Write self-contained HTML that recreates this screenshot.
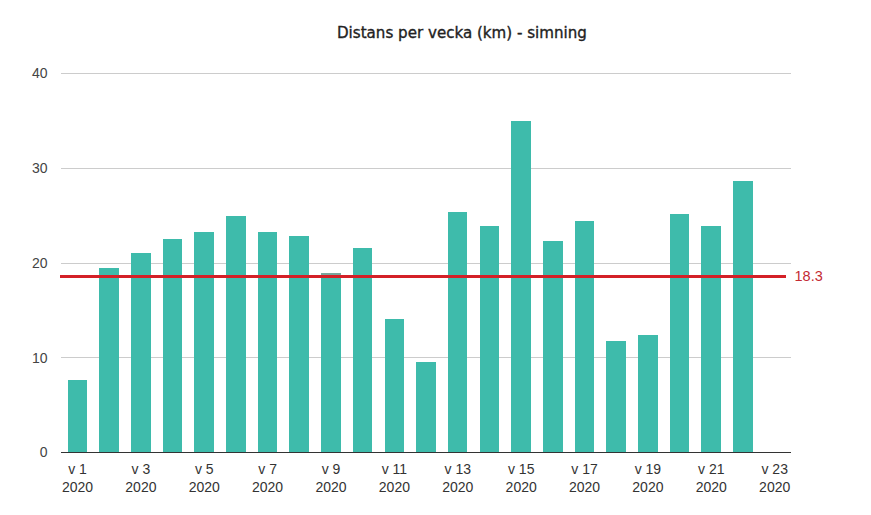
<!DOCTYPE html>
<html><head><meta charset="utf-8"><style>
html,body{margin:0;padding:0;background:#fff;}
body{width:871px;height:515px;overflow:hidden;position:relative;}
svg{position:absolute;left:0;top:0;}
.t{font-family:"Liberation Sans",Arial,sans-serif;font-size:14px;fill:#444;}
.title{position:absolute;left:337px;top:24px;font-family:"DejaVu Sans","Liberation Sans",sans-serif;font-size:15.1px;font-weight:400;color:#222;-webkit-text-stroke:0.35px #222;white-space:nowrap;line-height:normal;}
</style></head><body>
<svg width="871" height="515" viewBox="0 0 871 515">
<g shape-rendering="crispEdges">
<rect x="61" y="73" width="730" height="1" fill="#ccc"/>
<rect x="61" y="168" width="730" height="1" fill="#ccc"/>
<rect x="61" y="263" width="730" height="1" fill="#ccc"/>
<rect x="61" y="357" width="730" height="1" fill="#ccc"/>
<rect x="68" y="380" width="19" height="72" fill="#3ebbab"/>
<rect x="99" y="268" width="20" height="184" fill="#3ebbab"/>
<rect x="131" y="253" width="20" height="199" fill="#3ebbab"/>
<rect x="163" y="239" width="19" height="213" fill="#3ebbab"/>
<rect x="194" y="232" width="20" height="220" fill="#3ebbab"/>
<rect x="226" y="216" width="20" height="236" fill="#3ebbab"/>
<rect x="258" y="232" width="19" height="220" fill="#3ebbab"/>
<rect x="289" y="236" width="20" height="216" fill="#3ebbab"/>
<rect x="321" y="273" width="20" height="179" fill="#3ebbab"/>
<rect x="353" y="248" width="19" height="204" fill="#3ebbab"/>
<rect x="385" y="319" width="19" height="133" fill="#3ebbab"/>
<rect x="416" y="362" width="20" height="90" fill="#3ebbab"/>
<rect x="448" y="212" width="19" height="240" fill="#3ebbab"/>
<rect x="480" y="226" width="19" height="226" fill="#3ebbab"/>
<rect x="511" y="121" width="20" height="331" fill="#3ebbab"/>
<rect x="543" y="241" width="20" height="211" fill="#3ebbab"/>
<rect x="575" y="221" width="19" height="231" fill="#3ebbab"/>
<rect x="606" y="341" width="20" height="111" fill="#3ebbab"/>
<rect x="638" y="335" width="20" height="117" fill="#3ebbab"/>
<rect x="670" y="214" width="19" height="238" fill="#3ebbab"/>
<rect x="701" y="226" width="20" height="226" fill="#3ebbab"/>
<rect x="733" y="181" width="20" height="271" fill="#3ebbab"/>
<rect x="321" y="273" width="20" height="2" fill="#79a69d"/>
<rect x="61" y="452" width="730" height="1" fill="#333"/>
<rect x="60" y="275" width="726" height="3" fill="#d42027"/>
</g>
<g class="t">
<text x="47.5" y="78" text-anchor="end" fill="#444">40</text>
<text x="47.5" y="173" text-anchor="end" fill="#444">30</text>
<text x="47.5" y="268" text-anchor="end" fill="#444">20</text>
<text x="47.5" y="363" text-anchor="end" fill="#444">10</text>
<text x="47.5" y="457" text-anchor="end" fill="#444">0</text>
<text x="77.5" y="474" text-anchor="middle" fill="#333">v 1</text><text x="77.5" y="492" text-anchor="middle" fill="#333">2020</text>
<text x="140.9" y="474" text-anchor="middle" fill="#333">v 3</text><text x="140.9" y="492" text-anchor="middle" fill="#333">2020</text>
<text x="204.3" y="474" text-anchor="middle" fill="#333">v 5</text><text x="204.3" y="492" text-anchor="middle" fill="#333">2020</text>
<text x="267.6" y="474" text-anchor="middle" fill="#333">v 7</text><text x="267.6" y="492" text-anchor="middle" fill="#333">2020</text>
<text x="331.0" y="474" text-anchor="middle" fill="#333">v 9</text><text x="331.0" y="492" text-anchor="middle" fill="#333">2020</text>
<text x="394.4" y="474" text-anchor="middle" fill="#333">v 11</text><text x="394.4" y="492" text-anchor="middle" fill="#333">2020</text>
<text x="457.8" y="474" text-anchor="middle" fill="#333">v 13</text><text x="457.8" y="492" text-anchor="middle" fill="#333">2020</text>
<text x="521.2" y="474" text-anchor="middle" fill="#333">v 15</text><text x="521.2" y="492" text-anchor="middle" fill="#333">2020</text>
<text x="584.5" y="474" text-anchor="middle" fill="#333">v 17</text><text x="584.5" y="492" text-anchor="middle" fill="#333">2020</text>
<text x="647.9" y="474" text-anchor="middle" fill="#333">v 19</text><text x="647.9" y="492" text-anchor="middle" fill="#333">2020</text>
<text x="711.3" y="474" text-anchor="middle" fill="#333">v 21</text><text x="711.3" y="492" text-anchor="middle" fill="#333">2020</text>
<text x="774.7" y="474" text-anchor="middle" fill="#333">v 23</text><text x="774.7" y="492" text-anchor="middle" fill="#333">2020</text>
</g>
<text x="794.5" y="281" font-family="Liberation Sans,Arial,sans-serif" font-size="14.5" fill="#c42a33">18.3</text>
</svg>
<div class="title">Distans per vecka (km) - simning</div>
</body></html>
